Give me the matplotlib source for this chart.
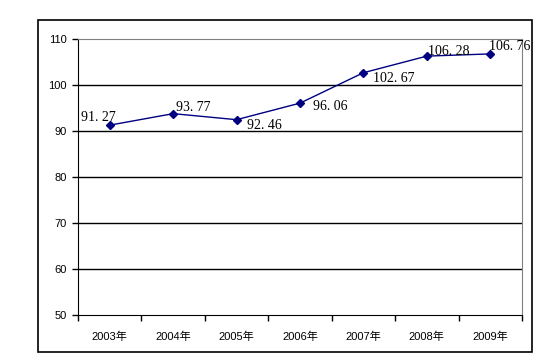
import matplotlib
matplotlib.use('Agg')
import matplotlib.pyplot as plt
from matplotlib.patches import Rectangle

# ------ data ------
years = ['2003年', '2004年', '2005年', '2006年', '2007年', '2008年', '2009年']
values = [91.27, 93.77, 92.46, 96.06, 102.67, 106.28, 106.76]
# label offsets in pixels (dx, dy)
offsets = [(-29, 8), (3, 6), (10, -6), (13, -3), (10, -6), (1, 5), (-1, 7)]
yticks = [50, 60, 70, 80, 90, 100, 110]

tickfont = ['Liberation Sans', 'Noto Sans CJK SC']
labelfont = ['Liberation Serif', 'DejaVu Serif']

fig = plt.figure(figsize=(5.35, 3.61), dpi=100)
fig.patch.set_facecolor('white')

# outer chart frame
fig.patches.append(Rectangle((38 / 535, 1 - 352 / 361), (532 - 38) / 535, (352 - 20) / 361,
                             transform=fig.transFigure, fill=False, edgecolor='black', lw=1.2))

ax = fig.add_axes([78 / 535, 1 - 315 / 361, (522 - 78) / 535, (315 - 39) / 361])

x = list(range(len(years)))
ax.plot(x, values, color='#000080', lw=1, marker='D', markersize=4,
        markerfacecolor='#000080', markeredgecolor='#000080')

for i, v in enumerate(values):
    txt = f'{v:.2f}'.replace('.', '. ')
    ax.annotate(txt, (x[i], v), xytext=offsets[i], textcoords='offset pixels',
                ha='left', va='center', fontsize=10, family=labelfont)

ax.set_xlim(-0.5, len(years) - 0.5)
ax.set_ylim(50, 110)
ax.set_yticks(yticks)
ax.set_yticklabels([str(t) for t in yticks], family=tickfont, fontsize=8)
ax.set_xticks(x)
ax.set_xticklabels(years, family=tickfont, fontsize=8)
ax.tick_params(axis='x', length=0, pad=12)
ax.set_xticks([i + 0.5 for i in range(-1, len(years))], minor=True)
ax.tick_params(axis='x', which='minor', length=4, direction='out', width=1)
ax.tick_params(axis='y', length=4, width=1, pad=4)

for t in yticks[1:-1]:
    ax.axhline(t, color='black', lw=1, zorder=0)

ax.spines['top'].set_color('#808080')
ax.spines['right'].set_color('#808080')
for s in ['left', 'bottom']:
    ax.spines[s].set_color('black')

fig.savefig('out.png', dpi=100)
